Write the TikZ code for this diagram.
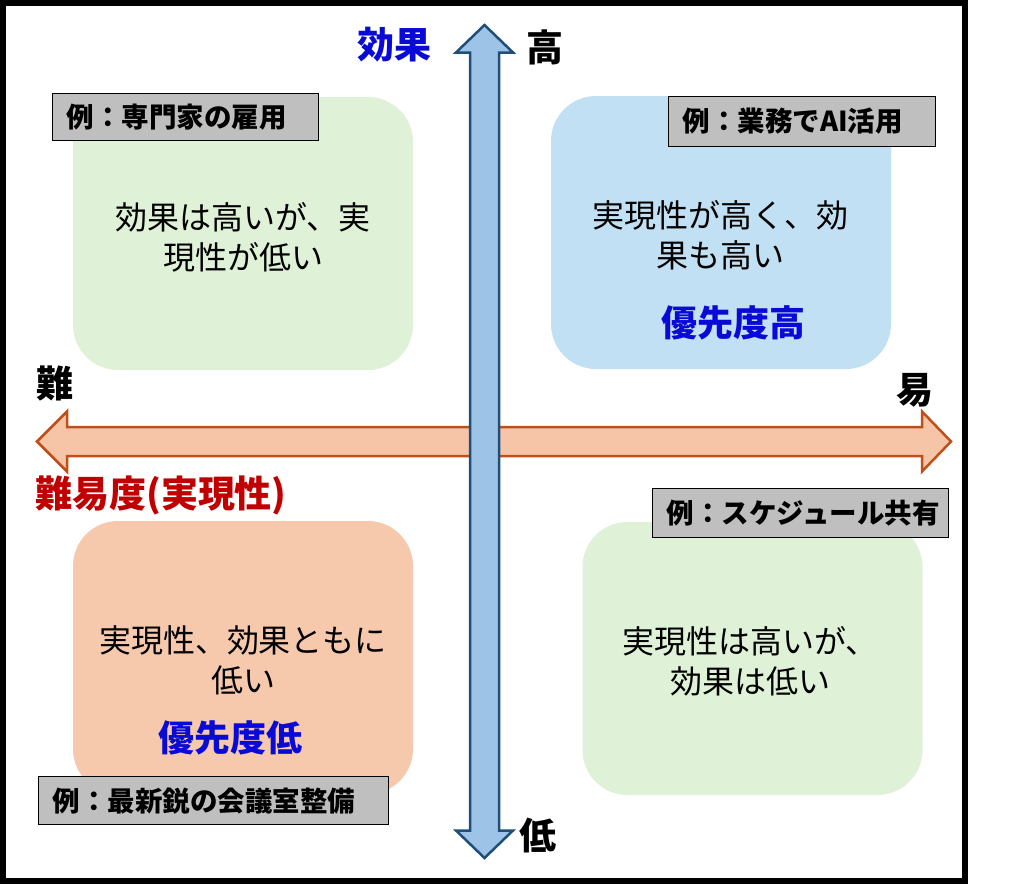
\documentclass[tikz,border=0pt]{standalone}
\usepackage{fontspec}
\setmainfont{Noto Sans CJK JP}
\usepackage{tikz}
\usetikzlibrary{arrows,shapes}
\definecolor{lowgreen}{HTML}{DFF1D6}
\definecolor{highblue}{HTML}{C2E0F3}
\definecolor{loworange}{HTML}{F6C8AC}
\definecolor{casegray}{HTML}{BFBFBF}
\definecolor{axisblue}{HTML}{9DC3E6}
\definecolor{axisblueline}{HTML}{1F4E79}
\definecolor{axisorange}{HTML}{F6C4A6}
\definecolor{axisorangeline}{HTML}{C0501A}
\definecolor{prioblue}{HTML}{0A0AD6}
\definecolor{diffred}{HTML}{C00000}
\tikzstyle{quadrant}=[rounded corners=45pt,minimum width=340pt,minimum height=273pt,inner sep=0pt]
\tikzstyle{casebox}=[draw=black,line width=1.2pt,fill=casegray,anchor=north west,inner xsep=14pt,inner ysep=0pt,align=left,font=\bfseries\fontsize{27.5}{30}\selectfont]
\tikzstyle{bodytext}=[align=center,inner sep=0pt,font=\fontsize{32}{40}\selectfont]
\tikzstyle{priority}=[inner sep=0pt,text=prioblue,font=\bfseries\fontsize{36}{40}\selectfont]
\tikzstyle{axislabel}=[inner sep=0pt,font=\bfseries\fontsize{37}{40}\selectfont]
\tikzstyle{blockarrow}=[line width=2.5pt,line join=miter]

\begin{document}
\begin{tikzpicture}[x=1pt,y=-1pt]
    \useasboundingbox (0,0) rectangle (1034,884);

    % frame
    \draw[line width=5.5pt] (2.75,2.75) rectangle (965,881);

    % quadrants
    \foreach \x/\y/\col/\name in {243/233.5/lowgreen/qTL, 721/232.5/highblue/qTR, 243/657.5/loworange/qBL, 752.5/658.5/lowgreen/qBR}
        \node[quadrant, fill=\col] (\name) at (\x,\y) {};

    % example tags
    \foreach \x/\y/\w/\h/\name/\txt in {52/93/266/47/tagTL/{例：専門家の雇用}, 668/96/267/50/tagTR/{例：業務でAI活用},
                                        38/776/350/48/tagBL/{例：最新鋭の会議室整備}, 652/488/296/49/tagBR/{例：スケジュール共有}}
    {
        \pgfmathsetmacro\tw{\w-28}
        \node[casebox, text width=\tw pt, minimum height=\h pt] (\name) at (\x,\y) {\txt};
    }

    % quadrant texts
    \node[bodytext] (txtTL) at (243,237) {効果は高いが、実\\現性が低い};
    \node[bodytext] (txtTR) at (720,235) {実現性が高く、効\\果も高い};
    \node[bodytext] (txtBL) at (243,660) {実現性、効果ともに\\低い};
    \node[bodytext] (txtBR) at (750,661) {実現性は高いが、\\効果は低い};
    \node[priority] (prioTR) at (733,323) {優先度高};
    \node[priority] (prioBL) at (230,738) {優先度低};

    % difficulty axis
    \draw[blockarrow, draw=axisorangeline, fill=axisorange]
        (37,441.5) -- (67,411.5) -- (67,427) -- (922,427) -- (922,411.5) -- (951,441.5)
        -- (922,471.5) -- (922,456) -- (67,456) -- (67,471.5) -- cycle;

    % effect axis
    \draw[blockarrow, draw=axisblueline, fill=axisblue]
        (484.5,25) -- (513,52.5) -- (499,52.5) -- (499,830.5) -- (513,830.5) -- (484.5,858)
        -- (456,830.5) -- (470,830.5) -- (470,52.5) -- (456,52.5) -- cycle;

    % axis labels
    \node[axislabel, text=prioblue] (effect) at (394,45) {効果};
    \node[axislabel] (high) at (545,47) {高};
    \node[axislabel] (low) at (538,835) {低};
    \node[axislabel] (hard) at (55,383) {難};
    \node[axislabel] (easy) at (915,390) {易};
    \node[axislabel, text=diffred, anchor=west] (difficulty) at (35,495) {難易度(実現性)};

\end{tikzpicture}
\end{document}
